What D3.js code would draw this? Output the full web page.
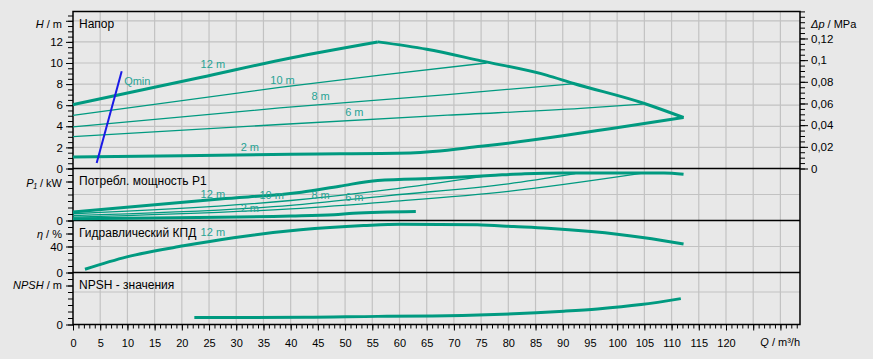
<!DOCTYPE html>
<html>
<head>
<meta charset="utf-8">
<script src="https://cdn.jsdelivr.net/npm/d3@7"></script>
<style>
  body { margin: 0; background: #e8e8e8; }
  text { font-family: "Liberation Sans", Arial, sans-serif; }
</style>
</head>
<body>
<script>
// Q, m3/h
const qMajor = d3.range(0, 131, 5);
const qLabels = d3.range(0, 121, 5);

// head curves [Q, H m]; the max curve is split at its peak
const head12up   = [[0,6.05],[23.4,8.62],[40,10.48],[56,12]];
const head12down = [[56,12],[65,11.3],[75,10.2],[87,8.85],[92,8.06],[105,6.16],[112.2,4.83]];
const head10 = [[0,5.04],[38,7.68],[56.5,8.84],[76,10.0]];
const head8  = [[0,3.94],[38,5.74],[68.8,7.01],[92.3,8.05]];
const head6  = [[0,3.03],[38,4.17],[68.8,5.05],[93.3,5.69],[104.7,6.1]];
const head2  = [[0,1.1],[20,1.2],[40,1.36],[62,1.47],[75,2.1],[90,3.1],[99,3.8],[112.2,4.83]];
const qmin   = [[4.35,0.53],[8.95,9.22]];

// power curves [Q, P1 kW]
const pow12 = [[0,0.33],[27,0.83],[42,1.09],[49,1.32],[56,1.54],[67.5,1.63],[76.7,1.73],[83,1.8],[90,1.83],[108.6,1.83],[112.2,1.78]];
const pow10 = [[0,0.26],[40,0.77],[58,1.19],[76,1.72]];
const pow8  = [[0,0.19],[40,0.58],[58,0.96],[80,1.41],[92.3,1.8]];
const pow6  = [[0,0.13],[40,0.45],[58,0.72],[80,1.12],[104.7,1.82]];
const pow2  = [[0,0.07],[40,0.17],[48,0.22],[51.5,0.28],[63,0.35]];

// efficiency [Q, %]
const eta12 = [[2.2,5],[9.9,24],[20.3,41],[29.5,53.5],[41.8,65.6],[53.4,72.2],[60.2,74.4],[74.3,73.3],[81,70.7],[87.2,68.2],[95.2,63],[100,58.9],[105,53.6],[112.2,43.9]];

// NPSH [Q, m]
const npsh = [[22.3,1.07],[42.7,1.1],[56,1.25],[66,1.3],[77.4,1.53],[90.2,2.04],[96.4,2.39],[104.4,3.06],[111.7,3.98]];

// curve labels [text, Q, value]
const headLabels = [["12 m",25.7,9.8],["10 m",38.5,8.3],["8 m",45.5,6.74],["6 m",51.7,5.23],["2 m",32.5,1.96]];
const powLabels  = [["12 m",25.7,0.99],["10 m",36.5,0.93],["8 m",45.5,0.92],["6 m",51.7,0.85],["2 m",32.5,0.44]];

const drawViz = () => {
	const width = 873, height = 359;
	const left = 73, right = 800;
	const top = 11.5, b1 = 168.5, b2 = 220.5, b3 = 272.5, b4 = 324.5;
	const teal = "#009a80", labTeal = "#27a394", grid = "#c2c2c2";

	const svg = d3.select('body').append('svg')
		.attr('width', width).attr('height', height);

	const x = d3.scaleLinear().domain([0, 133.6]).range([left, right]);
	const yH = d3.scaleLinear().domain([0, 14.88]).range([b1, top]);
	const yDp = d3.scaleLinear().domain([0, 0.1449]).range([b1, top]);
	const yP = d3.scaleLinear().domain([0, 2]).range([b2, b1]);
	const yE = d3.scaleLinear().domain([0, 80]).range([b3, b2]);
	const yN = d3.scaleLinear().domain([0, 8]).range([b4, b3]);

	// grid
	const g = svg.append('g').attr('stroke', grid).attr('stroke-width', 1.2);
	qMajor.filter(d => d > 0).forEach(q => {
		g.append('line').attr('x1', x(q)).attr('x2', x(q)).attr('y1', top).attr('y2', b4);
	});
	const hline = (y) => g.append('line').attr('x1', left).attr('x2', right).attr('y1', y).attr('y2', y);
	d3.range(2, 15, 2).forEach(h => hline(yH(h)));
	hline(yP(1)); hline(yE(40)); hline(yN(5));

	// axes
	const axisStyle = (size) => (sel) => {
		sel.select('.domain').remove();
		sel.selectAll('line').attr('stroke', '#000');
		sel.selectAll('text').attr('fill', '#000').style('font-size', size + 'px')
			.style('font-family', '"Liberation Sans", Arial, sans-serif');
	};
	const leftAxis = (scale, minor, major, labels) => {
		svg.append('g').attr('transform', `translate(${left},0)`)
			.call(d3.axisLeft(scale).tickValues(minor).tickSize(5).tickFormat('')).call(axisStyle(12));
		svg.append('g').attr('transform', `translate(${left},0)`)
			.call(d3.axisLeft(scale).tickValues(major).tickSize(7).tickPadding(3)
				.tickFormat(d => labels.includes(d) ? String(d) : '')).call(axisStyle(11.5));
	};
	leftAxis(yH, d3.range(0, 14.6, 0.5), d3.range(0, 15, 2), [0,2,4,6,8,10,12]);
	leftAxis(yP, d3.range(0, 2.01, 0.25), [0, 1.5], [0]);
	leftAxis(yE, d3.range(0, 81, 10), [0, 40, 60], [0, 40]);
	leftAxis(yN, d3.range(0, 8.1, 1), [0, 6], [0]);

	svg.append('g').attr('transform', `translate(${right},0)`)
		.call(d3.axisRight(yDp).tickValues(d3.range(0, 0.1451, 0.005)).tickSize(5).tickFormat('')).call(axisStyle(11));
	svg.append('g').attr('transform', `translate(${right},0)`)
		.call(d3.axisRight(yDp).tickValues([0,0.02,0.04,0.06,0.08,0.1,0.12]).tickSize(8).tickPadding(3)
			.tickFormat(d => d3.format('~g')(d).replace('.', ','))).call(axisStyle(11.5));

	svg.append('g').attr('transform', `translate(0,${b4})`)
		.call(d3.axisBottom(x).tickValues(d3.range(0, 134, 1)).tickSize(4).tickFormat('')).call(axisStyle(11));
	svg.append('g').attr('transform', `translate(0,${b4})`)
		.call(d3.axisBottom(x).tickValues(qMajor).tickSize(6).tickPadding(9)
			.tickFormat(d => qLabels.includes(d) ? String(d) : '')).call(axisStyle(11));

	// frame
	const f = svg.append('g').attr('stroke', '#000').attr('stroke-width', 1.5).attr('fill', 'none');
	f.append('rect').attr('x', left).attr('y', top).attr('width', right - left).attr('height', b4 - top);
	[b1, b2, b3].forEach(y => f.append('line').attr('x1', left).attr('x2', right).attr('y1', y).attr('y2', y));

	// axis titles
	const txt = (xp, yp, anchor, size) => svg.append('text').attr('x', xp).attr('y', yp)
		.attr('text-anchor', anchor).attr('dominant-baseline', 'middle')
		.style('font-size', (size || 12) + 'px').attr('fill', '#000');
	const unitLabel = (xp, yp, anchor, sym, unit) => {
		const t = txt(xp, yp, anchor, 11);
		t.append('tspan').style('font-style', 'italic').text(sym);
		t.append('tspan').text(' / ' + unit);
	};
	unitLabel(62, 25, 'end', 'H', 'm');
	unitLabel(62, yP(1.42), 'end', 'P₁', 'kW');
	unitLabel(62, yE(58), 'end', 'η', '%');
	unitLabel(62, yN(6), 'end', 'NPSH', 'm');
	unitLabel(811, 25, 'start', 'Δp', 'MPa');
	unitLabel(800, 343, 'end', 'Q', 'm³/h');

	// panel titles
	[["Напор", 25], ["Потребл. мощность P1", yP(1.5)], ["Гидравлический КПД", yE(60)], ["NPSH - значения", yN(6)]]
		.forEach(([s, yp]) => txt(79, yp, 'start', 12).text(s));

	// curves
	const curve = (data, yS, w, color) => svg.append('path').datum(data)
		.attr('d', d3.line().curve(d3.curveMonotoneX).x(d => x(d[0])).y(d => yS(d[1])))
		.attr('fill', 'none').attr('stroke', color || teal).attr('stroke-width', w);

	[head10, head8, head6].forEach(c => curve(c, yH, 1.3));
	curve(head2, yH, 3); curve(head12up, yH, 3); curve(head12down, yH, 3);
	[pow10, pow8, pow6].forEach(c => curve(c, yP, 1.3));
	curve(pow2, yP, 3); curve(pow12, yP, 3);
	curve(eta12, yE, 3);
	curve(npsh, yN, 3);
	curve(qmin, yH, 2, "#1a1ae6");

	// curve labels
	const lab = (s, q, yp) => txt(x(q), yp, 'middle', 11).attr('fill', labTeal).text(s);
	headLabels.forEach(([s, q, h]) => lab(s, q, yH(h)));
	powLabels.forEach(([s, q, p]) => lab(s, q, yP(p)));
	lab("12 m", 25.7, yE(60.5));
	txt(x(9.4), yH(8.2), 'start', 11).attr('fill', labTeal).text("Qmin");
};

drawViz();
</script>
</body>
</html>
